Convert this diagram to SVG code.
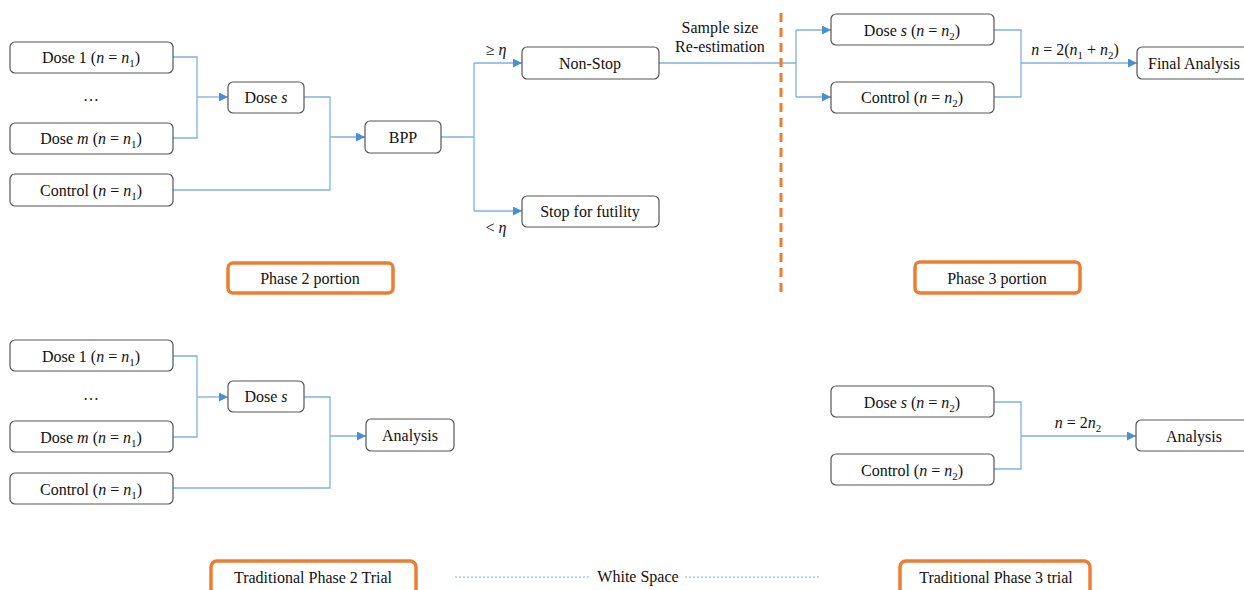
<svg xmlns="http://www.w3.org/2000/svg" width="1244" height="590" viewBox="0 0 1244 590">
<defs>
<marker id="arr" viewBox="0 0 10 10" refX="10" refY="5" markerWidth="9" markerHeight="9" markerUnits="userSpaceOnUse" orient="auto">
<path d="M0,0 L10,5 L0,10 z" fill="#4a8fd6"/>
</marker>
<style>
.box{fill:#fff;stroke:#555;stroke-width:1.2}
.obox{fill:#fff;stroke:#ED7D31;stroke-width:3.5}
.t{font-family:"Liberation Serif","Times New Roman",serif;font-size:16px;fill:#111;text-anchor:middle}
.i{font-style:italic}
.c{fill:none;stroke:#7fb1e3;stroke-width:1.3}
.ca{fill:none;stroke:#7fb1e3;stroke-width:1.3;marker-end:url(#arr)}
</style>
</defs>
<rect width="1244" height="590" fill="#fff"/>

<g id="connectors">
<polyline class="c" points="173,57 197,57 197,138 173,138"/>
<line class="ca" x1="197" y1="97" x2="228" y2="97"/>
<polyline class="c" points="304,97 330,97 330,190 173,190"/>
<line class="ca" x1="330" y1="137" x2="365" y2="137"/>
<line class="c" x1="441" y1="137" x2="474" y2="137"/>
<polyline class="c" points="474,63 474,211"/>
<line class="ca" x1="474" y1="63" x2="522" y2="63"/>
<line class="ca" x1="474" y1="211" x2="522" y2="211"/>
<line class="c" x1="659" y1="63" x2="796" y2="63"/>
<line class="c" x1="796" y1="30" x2="796" y2="97"/>
<line class="ca" x1="796" y1="30" x2="831" y2="30"/>
<line class="ca" x1="796" y1="97" x2="831" y2="97"/>
<polyline class="c" points="994,30 1021,30 1021,97 994,97"/>
<line class="ca" x1="1021" y1="63" x2="1137" y2="63"/>

<polyline class="c" points="173,356 197,356 197,437 173,437"/>
<line class="ca" x1="197" y1="397" x2="228" y2="397"/>
<polyline class="c" points="304,397 330,397 330,488 173,488"/>
<line class="ca" x1="330" y1="436" x2="366" y2="436"/>

<polyline class="c" points="994,402 1021,402 1021,469 994,469"/>
<line class="ca" x1="1021" y1="436" x2="1136" y2="436"/>

<line x1="781" y1="13" x2="781" y2="294" stroke="#ED7D31" stroke-width="3" stroke-dasharray="9,6"/>
<line x1="455" y1="577" x2="590" y2="577" stroke="#7fb1e3" stroke-width="1" stroke-dasharray="2,2"/>
<line x1="685" y1="577" x2="820" y2="577" stroke="#7fb1e3" stroke-width="1" stroke-dasharray="2,2"/>
</g>

<g id="dose1-top"><rect class="box" x="10" y="42" width="163" height="31" rx="5"/>
<text class="t" x="91" y="63">Dose 1 (<tspan class="i">n</tspan> = <tspan class="i">n</tspan><tspan font-size="11" dy="4">1</tspan><tspan dy="-4">)</tspan></text></g>
<g id="dots-top"><text class="t" x="91" y="101">…</text></g>
<g id="dosem-top"><rect class="box" x="10" y="123" width="163" height="31" rx="5"/>
<text class="t" x="91" y="144">Dose <tspan class="i">m</tspan> (<tspan class="i">n</tspan> = <tspan class="i">n</tspan><tspan font-size="11" dy="4">1</tspan><tspan dy="-4">)</tspan></text></g>
<g id="control-top"><rect class="box" x="10" y="174" width="163" height="32" rx="5"/>
<text class="t" x="91" y="196">Control (<tspan class="i">n</tspan> = <tspan class="i">n</tspan><tspan font-size="11" dy="4">1</tspan><tspan dy="-4">)</tspan></text></g>
<g id="doses-top"><rect class="box" x="228" y="82" width="76" height="31" rx="5"/>
<text class="t" x="266" y="103">Dose <tspan class="i">s</tspan></text></g>
<g id="bpp"><rect class="box" x="365" y="121" width="76" height="32" rx="5"/>
<text class="t" x="403" y="143">BPP</text></g>
<g id="nonstop"><rect class="box" x="522" y="47" width="137" height="32" rx="5"/>
<text class="t" x="590" y="69">Non-Stop</text></g>
<g id="stop"><rect class="box" x="522" y="196" width="137" height="31" rx="5"/>
<text class="t" x="590" y="217">Stop for futility</text></g>
<g id="labels-top">
<text class="t" x="496" y="55">≥ <tspan class="i">η</tspan></text>
<text class="t" x="496" y="233">&lt; <tspan class="i">η</tspan></text>
<text class="t" x="720" y="33">Sample size</text>
<text class="t" x="720" y="52">Re-estimation</text>
<text class="t" x="1075" y="55"><tspan class="i">n</tspan> = 2(<tspan class="i">n</tspan><tspan font-size="11" dy="4">1</tspan><tspan dy="-4"> + </tspan><tspan class="i">n</tspan><tspan font-size="11" dy="4">2</tspan><tspan dy="-4">)</tspan></text>
</g>
<g id="doses-p3"><rect class="box" x="831" y="14" width="163" height="31" rx="5"/>
<text class="t" x="912" y="36">Dose <tspan class="i">s</tspan> (<tspan class="i">n</tspan> = <tspan class="i">n</tspan><tspan font-size="11" dy="4">2</tspan><tspan dy="-4">)</tspan></text></g>
<g id="control-p3"><rect class="box" x="831" y="82" width="163" height="31" rx="5"/>
<text class="t" x="912" y="103">Control (<tspan class="i">n</tspan> = <tspan class="i">n</tspan><tspan font-size="11" dy="4">2</tspan><tspan dy="-4">)</tspan></text></g>
<g id="final"><rect class="box" x="1137" y="47" width="120" height="32" rx="5"/>
<text class="t" x="1194" y="69">Final Analysis</text></g>
<g id="phase2-portion"><rect class="obox" x="228" y="263" width="165" height="30" rx="5"/>
<text class="t" x="310" y="284">Phase 2 portion</text></g>
<g id="phase3-portion"><rect class="obox" x="915" y="262" width="165" height="31" rx="5"/>
<text class="t" x="997" y="284">Phase 3 portion</text></g>

<g id="dose1-bot"><rect class="box" x="10" y="340" width="163" height="31" rx="5"/>
<text class="t" x="91" y="362">Dose 1 (<tspan class="i">n</tspan> = <tspan class="i">n</tspan><tspan font-size="11" dy="4">1</tspan><tspan dy="-4">)</tspan></text></g>
<g id="dots-bot"><text class="t" x="91" y="400">…</text></g>
<g id="dosem-bot"><rect class="box" x="10" y="421" width="163" height="31" rx="5"/>
<text class="t" x="91" y="443">Dose <tspan class="i">m</tspan> (<tspan class="i">n</tspan> = <tspan class="i">n</tspan><tspan font-size="11" dy="4">1</tspan><tspan dy="-4">)</tspan></text></g>
<g id="control-bot"><rect class="box" x="10" y="473" width="163" height="31" rx="5"/>
<text class="t" x="91" y="495">Control (<tspan class="i">n</tspan> = <tspan class="i">n</tspan><tspan font-size="11" dy="4">1</tspan><tspan dy="-4">)</tspan></text></g>
<g id="doses-bot"><rect class="box" x="228" y="381" width="76" height="31" rx="5"/>
<text class="t" x="266" y="402">Dose <tspan class="i">s</tspan></text></g>
<g id="analysis-p2"><rect class="box" x="366" y="419" width="88" height="32" rx="5"/>
<text class="t" x="410" y="441">Analysis</text></g>
<g id="doses-trad3"><rect class="box" x="831" y="386" width="163" height="31" rx="5"/>
<text class="t" x="912" y="408">Dose <tspan class="i">s</tspan> (<tspan class="i">n</tspan> = <tspan class="i">n</tspan><tspan font-size="11" dy="4">2</tspan><tspan dy="-4">)</tspan></text></g>
<g id="control-trad3"><rect class="box" x="831" y="454" width="163" height="31" rx="5"/>
<text class="t" x="912" y="476">Control (<tspan class="i">n</tspan> = <tspan class="i">n</tspan><tspan font-size="11" dy="4">2</tspan><tspan dy="-4">)</tspan></text></g>
<g id="analysis-p3"><rect class="box" x="1136" y="420" width="120" height="31" rx="5"/>
<text class="t" x="1194" y="442">Analysis</text></g>
<g id="label-trad3"><text class="t" x="1078" y="428"><tspan class="i">n</tspan> = 2<tspan class="i">n</tspan><tspan font-size="11" dy="4">2</tspan></text></g>

<g id="trad-phase2"><rect class="obox" x="211" y="561" width="205" height="36" rx="6"/>
<text class="t" x="313" y="583">Traditional Phase 2 Trial</text></g>
<g id="white-space"><text class="t" x="638" y="582">White Space</text></g>
<g id="trad-phase3"><rect class="obox" x="900" y="561" width="190" height="36" rx="6"/>
<text class="t" x="996" y="583">Traditional Phase 3 trial</text></g>
</svg>
